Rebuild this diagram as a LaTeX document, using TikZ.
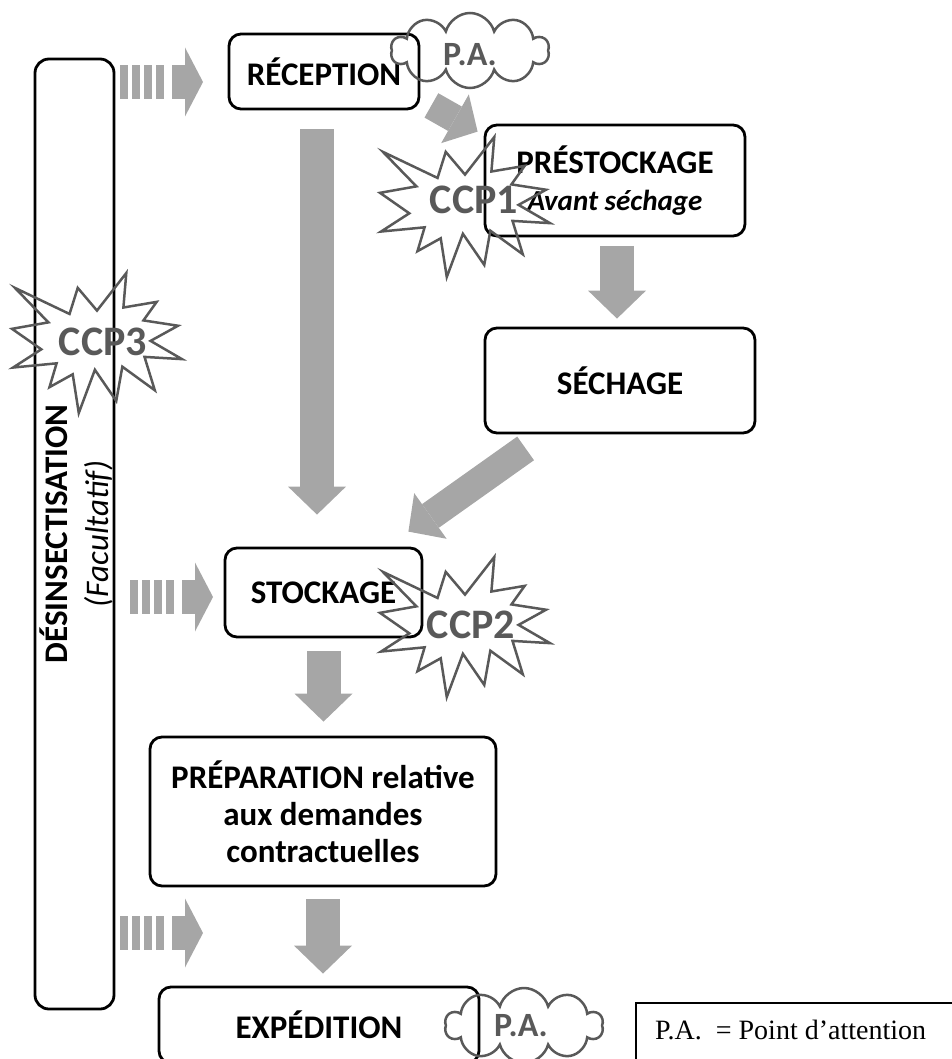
\documentclass[tikz,border=0pt]{standalone}
\usepackage{fontspec}
\setmainfont{Carlito}
\newfontfamily\legendfont{Liberation Serif}
\usetikzlibrary{arrows.meta,calc,shapes.symbols}
\definecolor{arrowgray}{RGB}{166,166,166}
\definecolor{burstgray}{RGB}{89,89,89}

\tikzset{ccpburst/.pic={
  \draw[burstgray, line width=2.5pt] (50,26.85) -- (67.23,0) -- (65.53,24.65) -- (85.09,20.63)
    -- (77.32,33.87) -- (97.67,37.67) -- (81.51,48.50) -- (100,61.53) -- (77.95,59.92)
    -- (84.00,83.77) -- (64.91,66.93) -- (61.33,91.38) -- (48.76,69.14) -- (39.28,100)
    -- (35.72,72.35) -- (22.05,81.56) -- (26.24,64.52) -- (0.63,67.53) -- (17.23,54.51)
    -- (0,39.88) -- (21.42,35.26) -- (1.71,10.63) -- (33.85,29.26) -- (38.67,10.63) -- cycle;
}}

\begin{document}
\begin{tikzpicture}[x=1pt, y=-1pt,
  box/.style={draw, line width=2.8pt, rounded corners=12pt, align=center, inner sep=0pt,
    font=\fontsize{33}{37}\selectfont\bfseries},
  bigarrow/.style={draw=arrowgray, line width=34pt, -{Triangle[length=28pt, width=58pt, line width=0pt]}},
  diagarrow/.style={draw=arrowgray, line width=28pt, -{Triangle[length=26pt, width=56pt, line width=0pt]}},
  stripearrow/.style={draw=arrowgray, line width=34pt, -{Triangle[length=18pt, width=69pt, line width=0pt]}},
  ccptext/.style={text=burstgray, font=\fontsize{42}{42}\selectfont\bfseries},
  pacloud/.style={cloud, cloud puffs=10, aspect=2.2, draw=burstgray, line width=2.5pt, inner sep=0pt,
    minimum width=158pt, minimum height=75pt},
  patext/.style={text=burstgray, font=\fontsize{34}{34}\selectfont\bfseries}]
\useasboundingbox (0,0) rectangle (951,1059);

% Désinsectisation
\node[box, minimum width=79pt, minimum height=950pt, rounded corners=14pt] (bar) at (74.5,534) {};
\node[rotate=90, align=center, font=\fontsize{33}{41}\selectfont] (bartext) at (76.5,534)
  {\textbf{DÉSINSECTISATION}\\\textit{(Facultatif)}};

% Etapes
\node[box, minimum width=190pt, minimum height=75pt] (rec) at (324,71.5) {RÉCEPTION};
\node[box, minimum width=260pt, minimum height=111pt] (pre) at (615,180.5)
  {PRÉSTOCKAGE\\{\fontsize{29}{37}\selectfont\itshape Avant séchage}};
\node[box, minimum width=270pt, minimum height=105pt] (sec) at (620,380.5) {SÉCHAGE};
\node[box, minimum width=197pt, minimum height=89pt] (sto) at (323.5,592.5) {STOCKAGE};
\node[box, minimum width=346pt, minimum height=149pt] (prep) at (323,811.5)
  {PRÉPARATION relative\\aux demandes\\contractuelles};
\node[box, minimum width=320pt, minimum height=76pt] (exp) at (319,1025) {EXPÉDITION};

% Flèches
\draw[bigarrow] ($(rec.south)+(-7,19)$) -- ($(rec.south |- sto.north)+(-7,-32)$);
\draw[diagarrow] ($(rec.south east)+(11,-5)$) -- ($(pre.north west)+(-6,8)$);
\draw[bigarrow] ($(pre.south)+(2,8.5)$) -- ($(pre.south |- sec.north)+(2,-8)$);
\draw[diagarrow, line width=29pt, -{Triangle[length=27pt, width=56pt, line width=0pt]}]
  ($(sec.south west)+(42,14)$) -- ($(sto.north east)+(-15,-15)$);
\draw[bigarrow] ($(sto.south)+(0,13)$) -- ($(sto.south |- prep.north)+(0,-14)$);
\draw[bigarrow] ($(prep.south)+(0,12)$) -- ($(prep.south |- exp.north)+(0,-12)$);

% Flèches rayées
\foreach \xs/\ys in {120/82, 130/597, 120/933} {
  \foreach \s in {0,12,24,36}
    \fill[arrowgray] (\xs+\s,\ys-17) rectangle ++(8,34);
  \draw[stripearrow] (\xs+52,\ys) -- (\xs+83,\ys);
}

% CCP
\pic[xscale=1.7, yscale=1.4] at (380,137) {ccpburst};
\pic[xscale=1.7, yscale=1.4] at (380,557) {ccpburst};
\pic[xscale=1.7, yscale=1.4] at (12,273) {ccpburst};
\node[ccptext] (ccpone) at (474,200) {CCP1};
\node[ccptext] (ccptwo) at (471,625) {CCP2};
\node[ccptext] (ccpthree) at (103,342) {CCP3};

% Points d'attention
\node[pacloud] (parec) at (470,50.5) {};
\node[patext] (parectext) at (470,55) {P.A.};
\node[pacloud] (paexp) at (524,1025.5) {};
\node[patext] (paexptext) at (521,1026) {P.A.};

% Légende
\node[draw, line width=2pt, anchor=north west, minimum width=400pt, minimum height=100pt] (legend) at (635,1002) {};
\node[anchor=base west, inner sep=0pt, font=\legendfont\fontsize{28}{28}\selectfont] (legendtext) at (655,1039)
  {P.A.~~= Point d’attention};
\end{tikzpicture}
\end{document}
